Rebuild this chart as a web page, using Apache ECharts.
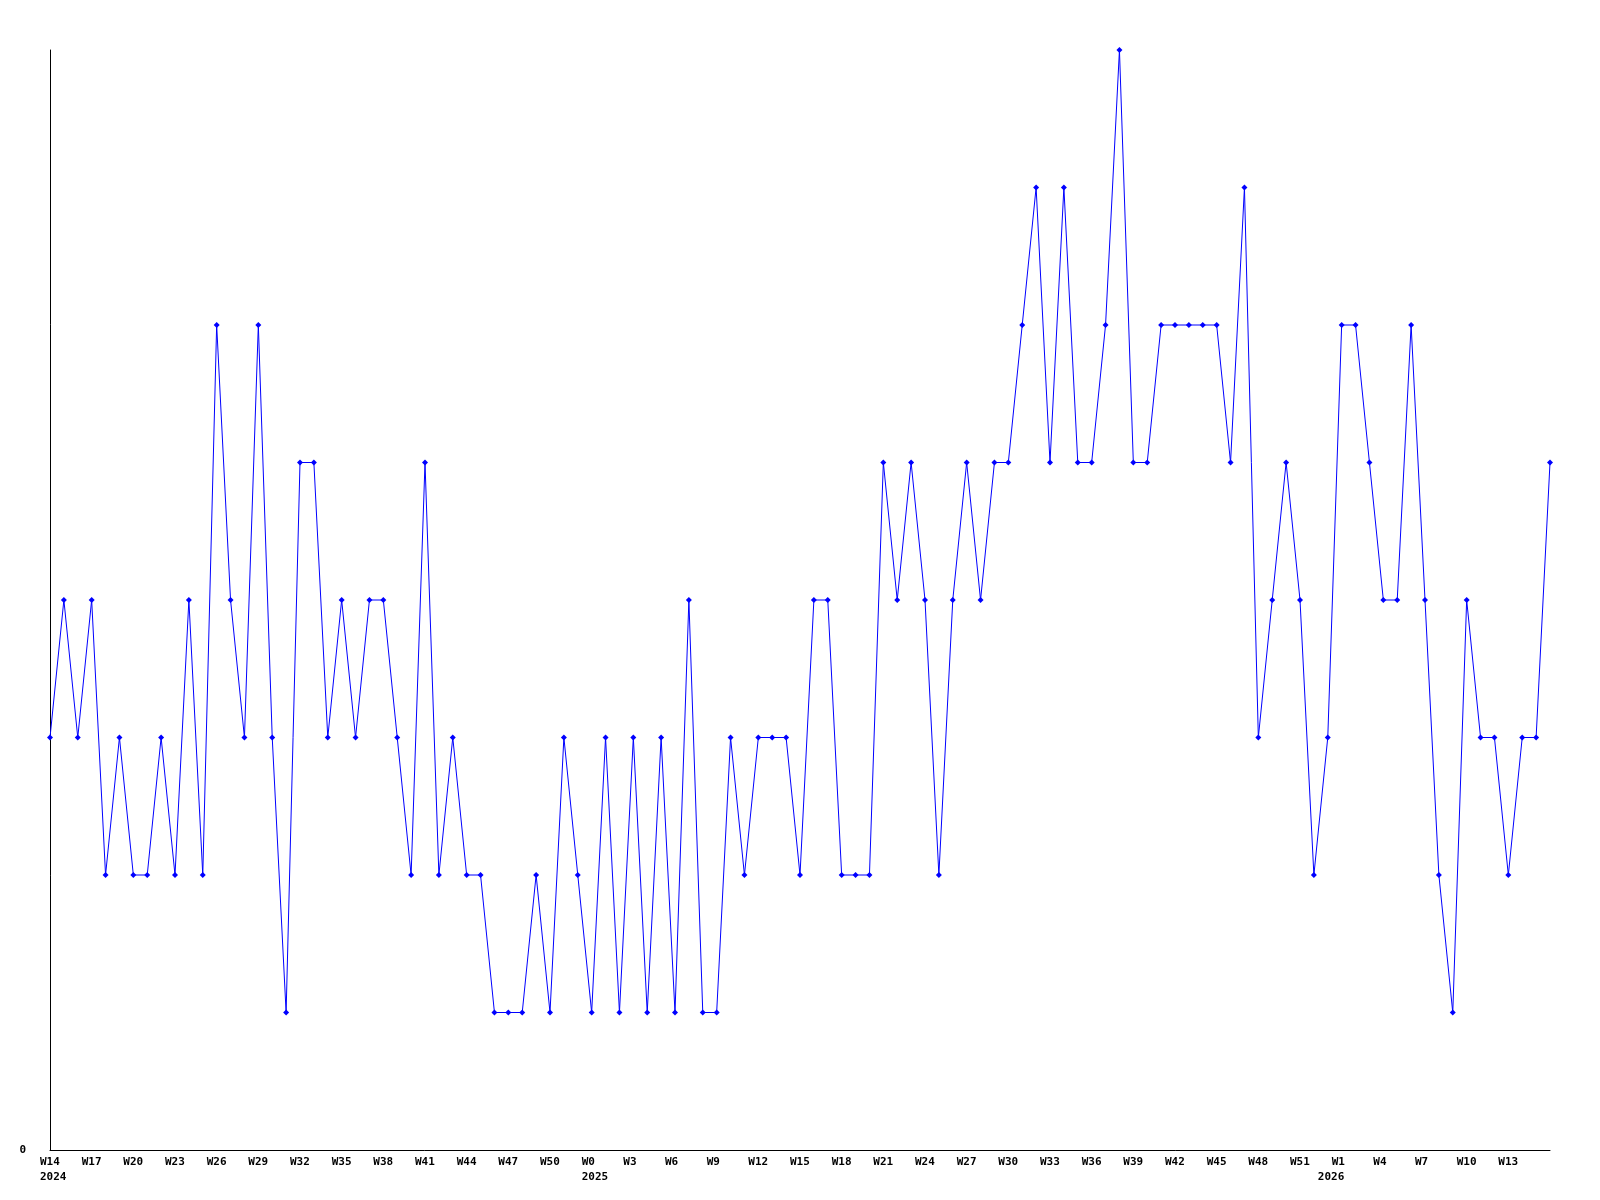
<!DOCTYPE html>
<html>
<head>
<meta charset="utf-8">
<style>
  html, body { margin: 0; padding: 0; background: #ffffff; }
  #chart { width: 1600px; height: 1200px; }
</style>
<script src="https://cdn.jsdelivr.net/npm/echarts@6/dist/echarts.min.js"></script>
</head>
<body>
<div id="chart"></div>
<script>
// Week labels (one per data point)
const weeks = [
  'W14','W15','W16','W17','W18','W19','W20','W21','W22','W23','W24','W25','W26','W27','W28','W29','W30','W31','W32','W33',
  'W34','W35','W36','W37','W38','W39','W40','W41','W42','W43','W44','W45','W46','W47','W48','W49','W50','W51','W52',
  'W0','W1','W2','W3','W4','W5','W6','W7','W8','W9','W10','W11','W12','W13','W14','W15','W16','W17','W18','W19','W20',
  'W21','W22','W23','W24','W25','W26','W27','W28','W29','W30','W31','W32','W33','W34','W35','W36','W37','W38','W39','W40',
  'W41','W42','W43','W44','W45','W46','W47','W48','W49','W50','W51','W52',
  'W0','W1','W2','W3','W4','W5','W6','W7','W8','W9','W10','W11','W12','W13','W14','W15','W16'
];
// Year labels and the point index under which each appears
const years = ['2024', '2025', '2026'];
const yearAt = [0, 39, 92];
// Series values
const values = [
  3,4,3,4,2,3,2,2,3,2,
  4,2,6,4,3,6,3,1,5,5,
  3,4,3,4,4,3,2,5,2,3,
  2,2,1,1,1,2,1,3,2,1,
  3,1,3,1,3,1,4,1,1,3,
  2,3,3,3,2,4,4,2,2,2,
  5,4,5,4,2,4,5,4,5,5,
  6,7,5,7,5,5,6,8,5,5,
  6,6,6,6,6,5,7,3,4,5,
  4,2,3,6,6,5,4,4,6,4,
  2,1,4,3,3,2,3,3,5
];
const yTicks = ['0'];

const chart = echarts.init(document.getElementById('chart'), null, { renderer: 'canvas' });
const fontFamily = '"DejaVu Sans Mono", monospace';
const lastIdx = weeks.length - 1;

chart.setOption({
  animation: false,
  backgroundColor: '#ffffff',
  grid: { left: 50, right: 50, top: 50, bottom: 50, containLabel: false },
  xAxis: {
    type: 'category',
    data: weeks,
    boundaryGap: false,
    axisLine: { show: true, lineStyle: { color: '#000000', width: 1 } },
    axisTick: { show: false },
    splitLine: { show: false },
    axisLabel: {
      interval: function (idx) {
        return (idx % 3 === 0 && idx !== lastIdx) || yearAt.indexOf(idx) >= 0;
      },
      hideOverlap: false,
      showMaxLabel: true,
      margin: 5,
      align: 'center',
      color: '#000000',
      fontFamily: fontFamily,
      fontWeight: 'bold',
      fontSize: 11,
      lineHeight: 15,
      formatter: function (val, idx) {
        const yi = yearAt.indexOf(idx);
        const showWeek = idx % 3 === 0 && idx !== lastIdx;
        const top = showWeek ? val : ' ';
        if (yi >= 0) return '{a|' + top + '}\n{a|' + years[yi] + '}';
        return showWeek ? '{a|' + val + '}' : '';
      },
      rich: {
        a: {
          width: 20, align: 'left', color: '#000000', fontFamily: fontFamily,
          fontWeight: 'bold', fontSize: 11, lineHeight: 15
        }
      }
    }
  },
  yAxis: {
    type: 'value',
    min: 0,
    max: 8,
    interval: 8,
    axisLine: { show: true, lineStyle: { color: '#000000', width: 1 } },
    axisTick: { show: false },
    splitLine: { show: false },
    axisLabel: {
      margin: 24,
      color: '#000000',
      fontFamily: fontFamily,
      fontWeight: 'bold',
      fontSize: 11,
      formatter: function (v) { return v === 0 ? yTicks[0] : ''; }
    }
  },
  series: [{
    type: 'line',
    data: values,
    symbol: 'diamond',
    symbolSize: 6,
    showAllSymbol: true,
    lineStyle: { color: '#0000ff', width: 1 },
    itemStyle: { color: '#0000ff' },
    emphasis: { disabled: true }
  }]
});
</script>
</body>
</html>
